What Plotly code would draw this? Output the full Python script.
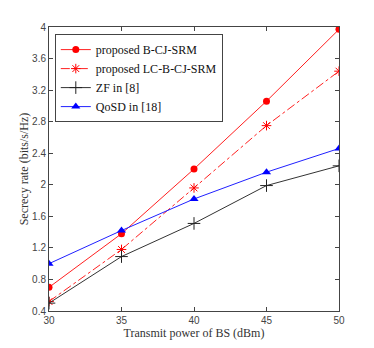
import plotly.graph_objects as go

# Transmit power of BS (dBm)
power = [30, 35, 40, 45, 50]

# Secrecy rate (bits/s/Hz) per scheme
b_cj_srm = [0.70, 1.38, 2.20, 3.06, 3.97]
lc_b_cj_srm = [0.52, 1.18, 1.96, 2.75, 3.44]
zf = [0.50, 1.09, 1.51, 1.99, 2.24]
qosd = [1.00, 1.42, 1.82, 2.16, 2.46]

y_ticks = [0.4, 0.8, 1.2, 1.6, 2, 2.4, 2.8, 3.2, 3.6, 4]
y_tick_text = ["0.4", "0.8", "1.2", "1.6", "2", "2.4", "2.8", "3.2", "3.6", "4"]

fig = go.Figure()

fig.add_trace(go.Scatter(
    x=power, y=b_cj_srm, name="proposed B-CJ-SRM", mode="lines+markers",
    line=dict(color="#ff2020", width=1),
    marker=dict(symbol="circle", size=7, color="#ff0000"),
))
fig.add_trace(go.Scatter(
    x=power, y=lc_b_cj_srm, name="proposed LC-B-CJ-SRM", mode="lines+markers",
    line=dict(color="#ff2020", width=1, dash="dashdot"),
    marker=dict(symbol="asterisk-open", size=8, color="#ff0000", line=dict(width=1, color="#ff0000")),
))
fig.add_trace(go.Scatter(
    x=power, y=zf, name="ZF in [8]", mode="lines+markers",
    line=dict(color="#333333", width=1),
    marker=dict(symbol="cross-thin-open", size=9, color="#222222", line=dict(width=1, color="#222222")),
))
fig.add_trace(go.Scatter(
    x=power, y=qosd, name="QoSD in [18]", mode="lines+markers",
    line=dict(color="#2020ff", width=1),
    marker=dict(symbol="triangle-up", size=8, color="#0000ff"),
))

axis_common = dict(
    showline=True, linecolor="#444444", linewidth=1, mirror="ticks",
    ticks="inside", ticklen=4, tickcolor="#444444",
    showgrid=False, zeroline=False, automargin=False,
    tickfont=dict(family="Arial, Liberation Sans, sans-serif", size=10, color="#444444"),
)

fig.update_xaxes(
    range=[30, 50], tickvals=power,
    title=dict(text="Transmit power of BS (dBm)", standoff=2,
               font=dict(family="Liberation Serif, Times New Roman, serif", size=12, color="#333333")),
    **axis_common,
)
fig.update_yaxes(
    range=[0.4, 4], tickvals=y_ticks, ticktext=y_tick_text,
    title=dict(text="Secrecy rate (bits/s/Hz)", standoff=0,
               font=dict(family="Liberation Serif, Times New Roman, serif", size=12, color="#333333")),
    **axis_common,
)

# page has an 8px body margin, so margins are offset to land the plot area on the reference
fig.update_layout(
    width=374, height=348,
    margin=dict(l=41, r=43, t=19, b=45),
    paper_bgcolor="white", plot_bgcolor="white",
    showlegend=True,
    legend=dict(
        x=0.02, y=0.975, xanchor="left", yanchor="top",
        bgcolor="white", bordercolor="#444444", borderwidth=1,
        font=dict(family="Liberation Serif, Times New Roman, serif", size=12, color="#111111"),
        tracegroupgap=0, itemwidth=30,
    ),
)

fig.write_html("out.html")
